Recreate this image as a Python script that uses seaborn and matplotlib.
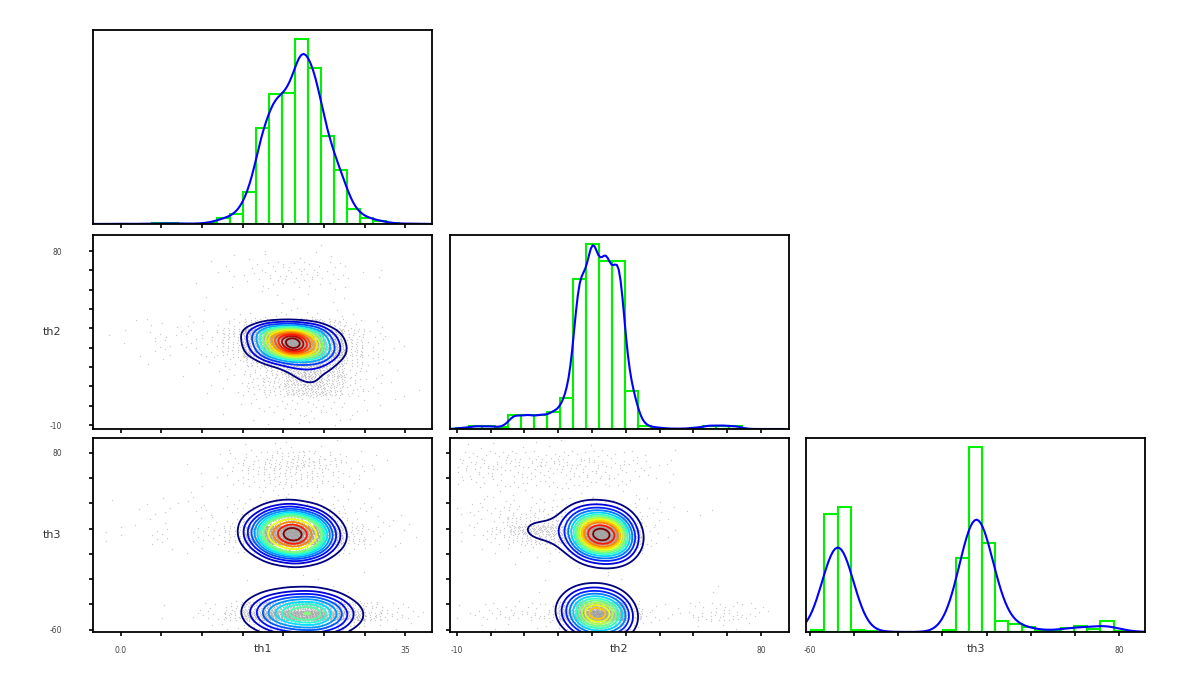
import numpy as np
import pandas as pd
import matplotlib
matplotlib.use("Agg")
import matplotlib.pyplot as plt
import seaborn as sns

# axis ranges and ticks
lims = {"th1": (-3.4, 38.3), "th2": (-12.0, 88.3), "th3": (-61.8, 91.7)}
ticks = {
    "th1": [0, 5, 10, 15, 20, 25, 30, 35],
    "th2": [-10, 0, 10, 20, 30, 40, 50, 60, 70, 80],
    "th3": [-60, -40, -20, 0, 20, 40, 60, 80],
}
tick_labels = {
    "th1": ["0.0", "", "", "", "", "", "", "35"],
    "th2": ["-10", "", "", "", "", "", "", "", "", "80"],
    "th3": ["-60", "", "", "", "", "", "", "80"],
}

th1_bin_start, th1_bin_width = -2.62, 1.605
th1_hist = [0, 1, 0, 1, 2, 2, 1, 1, 4, 17, 29, 95, 287, 387, 390, 552, 467,
            262, 160, 44, 19, 10, 2, 1, 1]
th2_bin_start, th2_bin_width = -10.2, 3.85
th2_hist = [3, 8, 8, 5, 40, 40, 40, 48, 91, 437, 537, 489, 489, 110, 10, 4,
            1, 1, 4, 10, 10, 8]
th3_bin_start, th3_bin_width = -59.4, 5.95
th3_hist = [7, 350, 373, 5, 2, 1, 0, 0, 0, 0, 7, 220, 550, 266, 33, 23, 15, 3,
            3, 13, 17, 10, 32, 3, 1]

# 2D cell counts for the scatter panels (rows: y from bottom, cols: x)
th1_cells = np.arange(-2.5, 37.6, 2.5)   # 16 cells
th2_cells = np.arange(-10, 85.1, 5)      # 19 cells
th3_cells = np.arange(-60, 90.1, 7.5)    # 20 cells

th1_th2_counts = [
    [0, 0, 0, 0, 0, 0, 0, 1, 1, 2, 3, 2, 1, 0, 0, 0],
    [0, 0, 0, 0, 0, 0, 1, 1, 3, 4, 5, 4, 2, 1, 0, 0],
    [0, 0, 0, 0, 0, 0, 1, 2, 3, 4, 5, 4, 2, 1, 1, 0],
    [0, 0, 0, 0, 0, 1, 2, 6, 13, 35, 44, 28, 8, 3, 1, 1],
    [0, 0, 0, 0, 0, 1, 2, 7, 16, 48, 58, 34, 7, 3, 1, 0],
    [0, 0, 0, 0, 1, 1, 2, 8, 20, 58, 70, 40, 8, 2, 1, 0],
    [0, 0, 1, 1, 1, 2, 5, 25, 60, 100, 110, 55, 12, 4, 1, 0],
    [0, 1, 1, 2, 2, 4, 12, 80, 280, 430, 330, 110, 22, 5, 1, 0],
    [0, 1, 2, 3, 3, 4, 14, 100, 340, 460, 330, 105, 18, 4, 2, 0],
    [1, 1, 3, 3, 3, 5, 18, 120, 360, 420, 270, 75, 13, 3, 1, 0],
    [0, 1, 2, 2, 2, 2, 6, 25, 52, 58, 45, 20, 5, 2, 0, 0],
    [0, 0, 0, 0, 1, 1, 1, 2, 3, 3, 3, 2, 1, 0, 0, 0],
    [0, 0, 0, 0, 0, 0, 1, 0, 1, 1, 0, 1, 0, 0, 0, 0],
    [0, 0, 0, 0, 0, 1, 0, 1, 1, 1, 1, 1, 0, 0, 0, 0],
    [0, 0, 0, 0, 1, 0, 1, 2, 3, 3, 3, 2, 1, 0, 0, 0],
    [0, 0, 0, 0, 0, 1, 2, 3, 5, 6, 6, 4, 2, 1, 0, 0],
    [0, 0, 0, 0, 0, 1, 1, 3, 4, 5, 5, 3, 1, 1, 0, 0],
    [0, 0, 0, 0, 0, 0, 1, 1, 1, 1, 1, 1, 0, 0, 0, 0],
    [0, 0, 0, 0, 0, 0, 0, 0, 1, 0, 1, 0, 0, 0, 0, 0],
]

th1_th3_counts = [
    [0, 0, 0, 0, 0, 1, 3, 13, 27, 37, 40, 26, 10, 2, 1, 1],
    [0, 0, 0, 1, 2, 5, 22, 90, 195, 260, 280, 185, 75, 23, 8, 4],
    [0, 0, 0, 1, 1, 3, 11, 45, 96, 128, 138, 90, 36, 10, 4, 1],
    [0, 0, 0, 0, 0, 0, 0, 1, 1, 2, 2, 1, 1, 0, 0, 0],
    [0, 0, 0, 0, 0, 0, 0, 0, 1, 1, 0, 1, 0, 0, 0, 0],
    [0, 0, 0, 0, 0, 0, 0, 1, 0, 1, 1, 0, 0, 0, 0, 0],
    [0, 0, 0, 0, 0, 0, 0, 0, 1, 1, 0, 0, 1, 0, 0, 0],
    [0, 0, 0, 0, 0, 0, 0, 1, 1, 1, 1, 1, 0, 0, 0, 0],
    [0, 0, 0, 1, 1, 1, 3, 12, 38, 52, 33, 10, 3, 1, 1, 0],
    [1, 1, 2, 2, 2, 4, 12, 90, 270, 405, 250, 70, 15, 4, 1, 1],
    [1, 1, 2, 2, 2, 4, 14, 97, 290, 435, 270, 75, 15, 4, 2, 0],
    [0, 1, 1, 1, 1, 2, 4, 20, 60, 81, 55, 17, 5, 2, 1, 1],
    [0, 1, 1, 2, 2, 2, 4, 9, 14, 16, 14, 8, 3, 2, 1, 0],
    [1, 0, 1, 2, 2, 1, 2, 3, 5, 5, 5, 3, 2, 1, 0, 0],
    [0, 0, 0, 0, 1, 0, 1, 1, 2, 2, 1, 1, 1, 0, 0, 0],
    [0, 0, 0, 0, 0, 1, 2, 5, 8, 9, 8, 5, 2, 1, 0, 0],
    [0, 0, 0, 0, 1, 1, 3, 7, 11, 12, 11, 6, 3, 1, 0, 0],
    [0, 0, 0, 0, 1, 1, 3, 9, 16, 18, 16, 9, 4, 1, 1, 0],
    [0, 0, 0, 0, 0, 1, 2, 5, 9, 10, 8, 5, 2, 1, 0, 0],
    [0, 0, 0, 0, 0, 0, 1, 1, 2, 2, 1, 1, 0, 0, 0, 0],
]

th2_th3_counts = [
    [0, 1, 1, 1, 1, 2, 11, 45, 56, 33, 4, 1, 0, 0, 1, 2, 1, 1, 0],
    [2, 4, 5, 7, 8, 10, 80, 320, 405, 240, 30, 4, 2, 3, 6, 10, 9, 4, 1],
    [1, 2, 3, 3, 4, 5, 40, 158, 195, 118, 15, 2, 1, 2, 3, 5, 4, 2, 1],
    [0, 0, 0, 0, 1, 0, 1, 2, 2, 1, 0, 0, 0, 0, 0, 1, 0, 0, 0],
    [0, 0, 0, 0, 0, 0, 0, 1, 1, 0, 0, 0, 0, 0, 0, 1, 0, 0, 0],
    [0, 0, 0, 0, 0, 1, 0, 0, 1, 1, 0, 0, 0, 0, 0, 0, 0, 0, 0],
    [0, 0, 0, 1, 0, 0, 0, 1, 1, 0, 0, 0, 0, 0, 0, 0, 0, 0, 0],
    [0, 0, 0, 0, 1, 1, 0, 1, 1, 1, 0, 0, 0, 0, 0, 0, 0, 0, 0],
    [0, 1, 1, 2, 3, 3, 8, 35, 45, 45, 12, 1, 0, 0, 0, 0, 0, 0, 0],
    [1, 2, 4, 12, 20, 26, 45, 265, 400, 310, 40, 4, 1, 0, 0, 0, 0, 0, 0],
    [1, 3, 10, 30, 45, 45, 50, 280, 420, 285, 40, 4, 1, 0, 0, 0, 0, 0, 0],
    [1, 2, 5, 12, 15, 15, 15, 55, 65, 60, 18, 3, 1, 0, 0, 0, 0, 0, 0],
    [3, 4, 5, 6, 7, 7, 8, 9, 9, 8, 5, 3, 2, 1, 1, 1, 0, 0, 0],
    [1, 2, 2, 3, 3, 3, 4, 4, 4, 3, 2, 1, 1, 0, 0, 0, 0, 0, 0],
    [0, 1, 1, 1, 1, 1, 1, 1, 1, 1, 1, 0, 0, 0, 0, 0, 0, 0, 0],
    [3, 3, 4, 4, 4, 4, 4, 4, 4, 3, 2, 1, 1, 0, 0, 0, 0, 0, 0],
    [4, 5, 5, 5, 5, 5, 6, 6, 5, 4, 3, 2, 1, 0, 0, 0, 0, 0, 0],
    [6, 7, 7, 7, 7, 7, 8, 8, 7, 6, 4, 3, 2, 0, 0, 0, 0, 0, 0],
    [4, 4, 4, 4, 4, 4, 4, 4, 4, 3, 2, 1, 1, 0, 0, 0, 0, 0, 0],
    [1, 1, 1, 1, 1, 1, 1, 1, 0, 0, 0, 0, 0, 0, 0, 0, 0, 0, 0],
]

# iso-proportion levels for the contour lines
contour_levels = [0.2, 0.28, 0.35, 0.42, 0.49, 0.56, 0.62, 0.68, 0.74, 0.8,
                  0.86, 0.91, 0.96]


def cell_points(counts, x_edges, y_edges):
    # spread each cell's count evenly over its cell, using an even-spread
    # (R2 low-discrepancy) order that carries on from cell to cell
    g = 1.32471795724474602596
    a1, a2 = 1 / g, 1 / g ** 2
    xs, ys = [], []
    start = 0
    for j, row in enumerate(counts):
        for i, n in enumerate(row):
            if n == 0:
                continue
            k = np.arange(start, start + n)
            start += n
            fx = (0.5 + a1 * k) % 1
            fy = (0.5 + a2 * k) % 1
            xs.append(x_edges[i] + fx * (x_edges[i + 1] - x_edges[i]))
            ys.append(y_edges[j] + fy * (y_edges[j + 1] - y_edges[j]))
    return pd.DataFrame({"x": np.concatenate(xs), "y": np.concatenate(ys)})


plt.rcParams["font.family"] = ["DejaVu Sans"]
jet = matplotlib.colormaps["jet"]
fig = plt.figure(figsize=(12, 6.75), dpi=100)
W, H = 1200, 675
col_left = [93, 450, 806]
row_top = [30, 235, 438]
pw, ph = 339, 194


def make_ax(r, c):
    return fig.add_axes([col_left[c] / W, 1 - (row_top[r] + ph) / H, pw / W, ph / H])


def style(ax, xname=None, yname=None, xlabels=False, ylabels=False, xlab=False, ylab=False):
    for s in ax.spines.values():
        s.set_visible(True)
        s.set_color("black")
        s.set_linewidth(1.3)
    ax.tick_params(direction="out", length=3, width=1.2, color="black",
                   labelsize=5.5, labelcolor="#444444")
    ax.tick_params(axis="x", pad=7)
    ax.tick_params(axis="y", pad=19)
    if xname:
        ax.set_xticks(ticks[xname])
        ax.set_xticklabels(tick_labels[xname] if xlabels else [""] * len(ticks[xname]))
    else:
        ax.set_xticks([])
    if yname:
        ax.set_yticks(ticks[yname])
        ax.set_yticklabels(tick_labels[yname] if ylabels else [""] * len(ticks[yname]))
    else:
        ax.set_yticks([])
    ax.set_xlabel(xname if xlab else "", fontsize=8, color="#333333")
    ax.set_ylabel(yname if ylab else "", fontsize=8, color="#333333",
                  rotation=0, ha="center", va="center")
    ax.xaxis.set_label_coords(0.5, -0.062)
    ax.yaxis.set_label_coords(-0.121, 0.5)


def diag(ax, name, start, width, counts, bw):
    edges = [start + width * i for i in range(len(counts) + 1)]
    centers = [(edges[i] + edges[i + 1]) / 2 for i in range(len(counts))]
    df = pd.DataFrame({name: centers, "count": counts})
    sns.histplot(data=df, x=name, weights="count", bins=edges, element="bars",
                 fill=False, color="#00f000", linewidth=1.5, kde=True,
                 kde_kws={"bw_method": bw, "cut": 3}, ax=ax)
    ax.lines[-1].set_color("#0000ff")
    ax.lines[-1].set_linewidth(1.5)
    ax.set_xlim(*lims[name])


def lower(ax, counts, xname, yname, x_edges, y_edges, bw_adjust):
    pts = cell_points(counts, x_edges, y_edges)
    sns.scatterplot(data=pts, x="x", y="y", s=1.0, color="#a0a0a0", alpha=0.55,
                    linewidth=0, ax=ax)
    sns.kdeplot(data=pts, x="x", y="y", levels=contour_levels, cmap=jet,
                linewidths=1.3, bw_adjust=bw_adjust, gridsize=150, ax=ax)
    ax.set_xlim(*lims[xname])
    ax.set_ylim(*lims[yname])


# row 1
ax = make_ax(0, 0)
diag(ax, "th1", th1_bin_start, th1_bin_width, th1_hist, 0.27)
style(ax, xname="th1")

# row 2
ax = make_ax(1, 0)
lower(ax, th1_th2_counts, "th1", "th2", th1_cells, th2_cells, 1.3)
style(ax, xname="th1", yname="th2", ylabels=True, ylab=True)
ax = make_ax(1, 1)
diag(ax, "th2", th2_bin_start, th2_bin_width, th2_hist, 0.19)
style(ax, xname="th2")

# row 3
ax = make_ax(2, 0)
lower(ax, th1_th3_counts, "th1", "th3", th1_cells, th3_cells, 1.25)
style(ax, xname="th1", yname="th3", xlabels=True, ylabels=True, xlab=True, ylab=True)
ax = make_ax(2, 1)
lower(ax, th2_th3_counts, "th2", "th3", th2_cells, th3_cells, 1.25)
style(ax, xname="th2", yname="th3", xlabels=True, xlab=True)
ax = make_ax(2, 2)
diag(ax, "th3", th3_bin_start, th3_bin_width, th3_hist, 0.16)
style(ax, xname="th3", xlabels=True, xlab=True)

fig.savefig("out.png", dpi=100)
